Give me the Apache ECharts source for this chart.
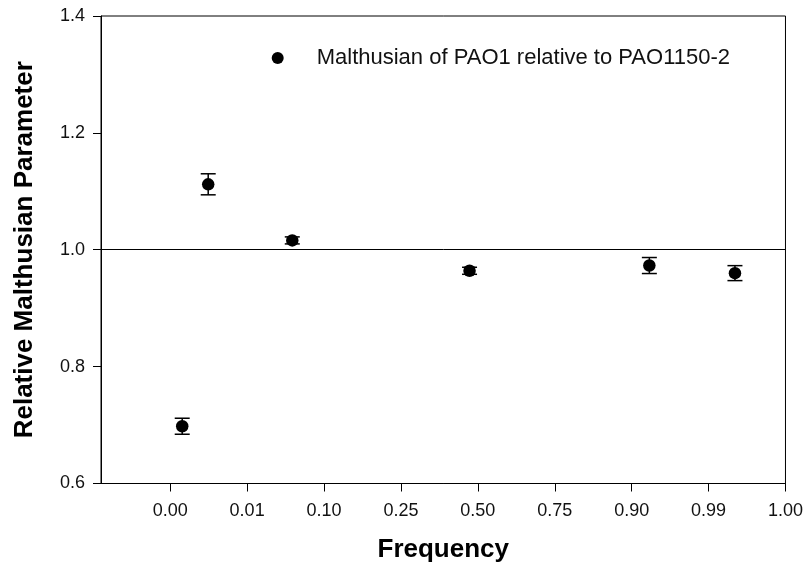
<!DOCTYPE html>
<html>
<head>
<meta charset="utf-8">
<script src="https://cdn.jsdelivr.net/npm/echarts@6/dist/echarts.min.js"></script>
<style>
  html, body { margin: 0; padding: 0; background: #fff; }
  #chart { width: 806px; height: 573px; }
</style>
</head>
<body>
<div id="chart"></div>
<script>
// Frequency tick labels, placed at positions 0..8 along the x axis
const tickLabels = ['0.00', '0.01', '0.10', '0.25', '0.50', '0.75', '0.90', '0.99', '1.00'];
// x position of each measurement, in tick units
const xPos = [0.156, 0.494, 1.587, 3.892, 6.23, 7.343];
// Relative Malthusian parameter and its standard error
const malthusian = [0.698, 1.112, 1.016, 0.964, 0.973, 0.960];
const stdErr = [0.0137, 0.018, 0.006, 0.006, 0.0137, 0.0128];

const seriesName = 'Malthusian of PAO1 relative to PAO1150-2';
const font = '"Liberation Sans", Arial, sans-serif';

const points = xPos.map((x, i) => [x, malthusian[i]]);
const bars = xPos.map((x, i) => [x, malthusian[i] - stdErr[i], malthusian[i] + stdErr[i]]);

const chart = echarts.init(document.getElementById('chart'), null, { renderer: 'canvas' });

chart.setOption({
  animation: false,
  backgroundColor: '#fff',
  textStyle: { fontFamily: font, color: '#000' },
  grid: {
    left: 101, right: 20, top: 16, bottom: 89.5,
    show: true, borderColor: '#000', borderWidth: 1
  },
  legend: {
    left: 266.7, top: 42,
    itemWidth: 12, itemHeight: 12,
    data: [{ name: seriesName, icon: 'circle', itemStyle: { color: '#000', opacity: 1 } }],
    textStyle: { fontFamily: font, fontSize: 22, color: '#111', padding: [0, 0, 0, 28] }
  },
  xAxis: {
    type: 'value',
    min: -0.9, max: 8,
    name: 'Frequency',
    nameLocation: 'middle',
    nameGap: 53,
    nameTextStyle: { fontFamily: font, fontSize: 26, fontWeight: 'bold', color: '#000' },
    axisLine: { onZero: false, lineStyle: { color: '#000', width: 1 } },
    splitLine: { show: false },
    axisTick: {
      inside: false, length: 8,
      lineStyle: { color: '#000' },
      customValues: tickLabels.map((_, i) => i)
    },
    axisLabel: {
      customValues: tickLabels.map((_, i) => i),
      formatter: v => tickLabels[Math.round(v)],
      fontFamily: font, fontSize: 18, color: '#111', margin: 19
    }
  },
  yAxis: {
    type: 'value',
    min: 0.6, max: 1.4, interval: 0.2,
    name: 'Relative Malthusian Parameter',
    nameLocation: 'middle',
    nameGap: 63,
    nameTextStyle: { fontFamily: font, fontSize: 26, fontWeight: 'bold', color: '#000' },
    axisLine: { show: true, onZero: false, lineStyle: { color: '#000', width: 1 } },
    splitLine: { show: false },
    axisTick: { show: true, inside: false, length: 8, lineStyle: { color: '#000' } },
    axisLabel: {
      formatter: v => v.toFixed(1),
      fontFamily: font, fontSize: 18, color: '#111', margin: 16
    }
  },
  series: [
    {
      name: 'errorBars',
      type: 'custom',
      silent: true,
      z: 3,
      renderItem: function (params, api) {
        const x = api.value(0);
        const lo = api.coord([x, api.value(1)]);
        const hi = api.coord([x, api.value(2)]);
        const half = 7.5;
        const style = { stroke: '#000', lineWidth: 1.5 };
        return {
          type: 'group',
          children: [
            { type: 'line', shape: { x1: lo[0], y1: lo[1], x2: hi[0], y2: hi[1] }, style },
            { type: 'line', shape: { x1: lo[0] - half, y1: lo[1], x2: lo[0] + half, y2: lo[1] }, style },
            { type: 'line', shape: { x1: hi[0] - half, y1: hi[1], x2: hi[0] + half, y2: hi[1] }, style }
          ]
        };
      },
      encode: { x: 0, y: [1, 2] },
      data: bars
    },
    {
      name: seriesName,
      type: 'scatter',
      symbol: 'circle',
      symbolSize: 12.5,
      z: 4,
      itemStyle: { color: '#000', opacity: 1 },
      data: points,
      markLine: {
        silent: true,
        symbol: 'none',
        label: { show: false },
        lineStyle: { color: '#000', width: 1, type: 'solid' },
        data: [{ yAxis: 1.0 }]
      }
    }
  ]
});
</script>
</body>
</html>
